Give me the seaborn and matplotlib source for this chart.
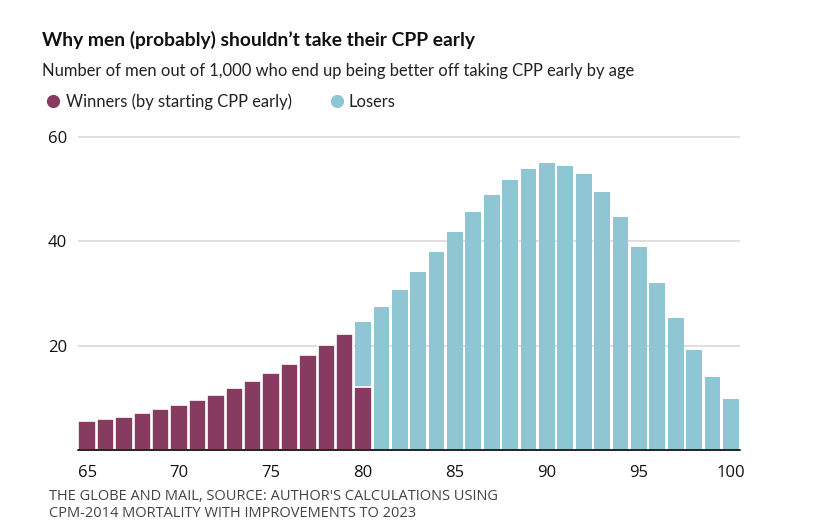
import pandas as pd
import seaborn as sns
from matplotlib import pyplot as plt
from matplotlib.lines import Line2D

# ------------------------------------------------- #
# Data (men out of 1,000, by age)
ages = list(range(65, 101))
winners = [5.5, 5.9, 6.4, 7.1, 7.8, 8.6, 9.6, 10.6, 11.9, 13.3,
           14.8, 16.4, 18.2, 20.1, 22.2, 12.1] + [0] * 20
losers = [0] * 15 + [12.4, 27.4, 30.6, 34.1, 37.9, 41.7, 45.5, 48.9, 51.8,
                     53.9, 54.9, 54.5, 52.8, 49.4, 44.7, 38.9, 32.0, 25.3,
                     19.2, 14.0, 9.7]
tick_ages = [65, 70, 75, 80, 85, 90, 95, 100]
y_ticks = [20, 40, 60]

purple = "#873b60"
blue = "#8ec6d3"
# ------------------------------------------------- #

df = pd.DataFrame({"age": ages, "winners": winners, "losers": losers})
df["total"] = df["winners"] + df["losers"]

sns.set_style("white")
plt.rcParams["font.family"] = ["Open Sans", "DejaVu Sans"]

W, H = 827, 530
fig = plt.figure(figsize=(W / 100, H / 100), dpi=100)
# axes: x from px 78 to 740, baseline at px 450, 62 units tall
ax = fig.add_axes([78 / W, 80 / H, 662 / W, 62 * 5.22 / H])

# losers (total height) first, winners on top with a white edge
sns.barplot(data=df, x="age", y="total", order=ages, color=blue,
            width=0.86, saturation=1, linewidth=0, ax=ax, zorder=2)
sns.barplot(data=df, x="age", y="winners", order=ages, color=purple,
            width=0.95, saturation=1, edgecolor="white", linewidth=1.2,
            ax=ax, zorder=3)

ax.set_xlim(-0.5, len(ages) - 0.5)
ax.set_ylim(0, 62)
for v in y_ticks:
    ax.axhline(v, color="#dcdcdc", lw=1.3, zorder=1)
ax.axhline(0, color="#222222", lw=1.4, zorder=4, clip_on=False)

ax.set_yticks(y_ticks)
ax.set_yticklabels([str(v) for v in y_ticks], fontsize=12, color="#111111")
ax.set_xticks([ages.index(a) for a in tick_ages])
ax.set_xticklabels([str(a) for a in tick_ages], fontsize=12, color="#111111")
ax.tick_params(axis="y", length=0, pad=8)
ax.tick_params(axis="x", length=0, pad=11)
ax.set_xlabel("")
ax.set_ylabel("")
sns.despine(ax=ax, left=True, bottom=True)


def px(x, y):
    return x / W, 1 - y / H


def fit(t, target):
    # shrink/grow the font so the text spans target pixels
    fig.canvas.draw()
    w = t.get_window_extent(fig.canvas.get_renderer()).width
    t.set_fontsize(t.get_fontsize() * target / w)


head = ["Lato", "DejaVu Sans"]
title = fig.text(*px(42, 46), "Why men (probably) shouldn\u2019t take their CPP early",
                 fontsize=14, fontweight="bold", color="#111111", family=head)
sub = fig.text(*px(42, 76),
               "Number of men out of 1,000 who end up being better off taking CPP early by age",
               fontsize=12, color="#222222", family=head)
fit(title, 436)
fit(sub, 592)

# legend, placed by hand
for x, c in [(53, purple), (337, blue)]:
    fig.add_artist(Line2D([x / W], [1 - 101 / H], marker="o", ls="",
                          color=c, markersize=8.5, transform=fig.transFigure))
lab1 = fig.text(*px(66, 107), "Winners (by starting CPP early)",
                fontsize=12, color="#222222", family=head)
lab2 = fig.text(*px(349, 107), "Losers", fontsize=12, color="#222222", family=head)
fit(lab1, 225)
lab2.set_fontsize(lab1.get_fontsize())

src1 = fig.text(*px(49, 500), "THE GLOBE AND MAIL, SOURCE: AUTHOR'S CALCULATIONS USING",
                fontsize=9.5, color="#444444")
src2 = fig.text(*px(49, 517), "CPM-2014 MORTALITY WITH IMPROVEMENTS TO 2023",
                fontsize=9.5, color="#444444")
fit(src1, 451)
src2.set_fontsize(src1.get_fontsize())

fig.savefig("out.png", dpi=100)
